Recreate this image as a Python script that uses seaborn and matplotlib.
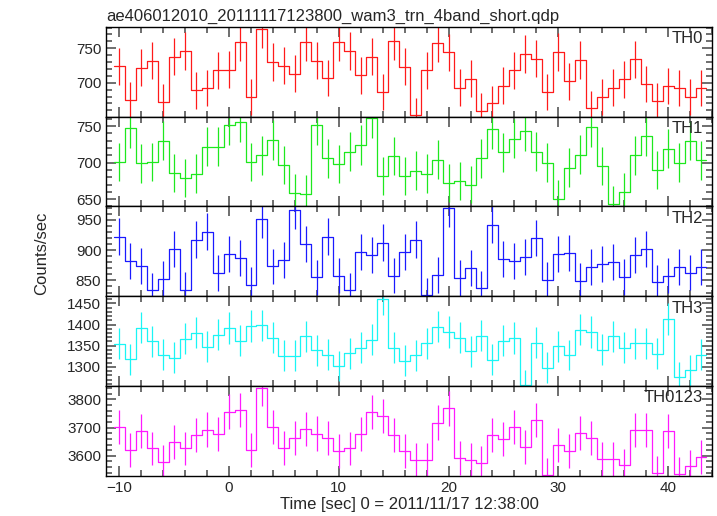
import numpy as np
import pandas as pd
import seaborn as sns
import matplotlib.pyplot as plt
from matplotlib.ticker import MultipleLocator

# Tiempo (centro de cada bin de 1 s)
time_sec = np.arange(-10, 44)

# Cuentas por segundo de cada banda
th0 = [724, 675, 722, 732, 672, 738, 746, 689, 692, 718, 719, 759, 679, 778, 730, 725, 713,
       759, 732, 707, 759, 746, 711, 738, 687, 761, 723, 653, 718, 758, 744, 693, 706, 659,
       670, 696, 718, 742, 735, 687, 745, 702, 733, 663, 679, 693, 705, 734, 698, 674, 695,
       692, 680, 692]
th1 = [701, 748, 699, 701, 730, 686, 679, 685, 722, 722, 752, 756, 701, 710, 731, 697, 659,
       657, 752, 706, 698, 715, 724, 761, 682, 709, 682, 689, 685, 704, 672, 675, 670, 706,
       746, 714, 733, 743, 715, 700, 650, 693, 711, 749, 695, 643, 660, 710, 736, 690, 719,
       700, 730, 703]
th2 = [922, 882, 874, 834, 852, 902, 835, 917, 930, 862, 894, 887, 843, 951, 873, 883, 966,
       910, 855, 922, 858, 834, 897, 892, 912, 858, 897, 917, 826, 859, 969, 854, 871, 837,
       942, 886, 882, 888, 920, 851, 893, 895, 849, 872, 877, 881, 856, 892, 902, 847, 858,
       872, 863, 872]
th3 = [1355, 1318, 1393, 1360, 1329, 1322, 1367, 1381, 1348, 1376, 1392, 1362, 1397, 1398,
       1369, 1326, 1326, 1372, 1339, 1329, 1302, 1332, 1345, 1364, 1461, 1345, 1315, 1327,
       1356, 1395, 1382, 1369, 1337, 1374, 1317, 1362, 1368, 1257, 1357, 1298, 1349, 1328,
       1388, 1382, 1340, 1372, 1345, 1356, 1356, 1331, 1414, 1277, 1292, 1329]
th0123 = [3702, 3620, 3689, 3626, 3579, 3648, 3626, 3673, 3693, 3677, 3757, 3762, 3619, 3840,
          3702, 3629, 3662, 3696, 3679, 3662, 3617, 3626, 3677, 3755, 3742, 3673, 3616, 3585,
          3585, 3718, 3768, 3591, 3585, 3574, 3674, 3658, 3702, 3630, 3726, 3533, 3637, 3618,
          3682, 3664, 3589, 3589, 3566, 3691, 3691, 3539, 3688, 3537, 3562, 3595]

bandas = ['TH0', 'TH1', 'TH2', 'TH3', 'TH0123']
valores = [th0, th1, th2, th3, th0123]
colores = ['#ff1a1a', '#1ee81e', '#1a1aff', '#1af5f5', '#ff1aff']
limites_y = [(651, 781), (640, 763), (824, 972), (1255, 1467), (3529, 3848)]
paso_mayor = [50, 50, 50, 50, 100]
paso_menor = [10, 10, 10, 10, 20]

sns.set_style('ticks')
plt.rcParams['font.family'] = ['Liberation Sans', 'DejaVu Sans']

fig, axes = plt.subplots(5, 1, figsize=(7.17, 5.16), dpi=100, sharex=True)
fig.subplots_adjust(left=0.148, right=0.993, top=0.948, bottom=0.078, hspace=0)

for ax, nombre, v, c, lim, mayor, menor in zip(axes, bandas, valores, colores, limites_y,
                                                paso_mayor, paso_menor):
    v = np.array(v, dtype=float)
    # Histograma en escalera: cada bin de t-0.5 a t+0.5
    df = pd.DataFrame({
        't': np.column_stack([time_sec - 0.5, time_sec + 0.5]).ravel(),
        'rate': np.repeat(v, 2),
    })
    sns.lineplot(data=df, x='t', y='rate', sort=False, estimator=None, color=c,
                 linewidth=0.9, ax=ax)
    # Errores de Poisson (bins de 1 s)
    ax.errorbar(time_sec, v, yerr=np.sqrt(v), fmt='none', ecolor=c, elinewidth=0.9)

    ax.set_xlim(-11.2, 44.0)
    ax.set_ylim(*lim)
    ax.yaxis.set_major_locator(MultipleLocator(mayor))
    ax.yaxis.set_minor_locator(MultipleLocator(menor))
    ax.xaxis.set_major_locator(MultipleLocator(10))
    ax.xaxis.set_minor_locator(MultipleLocator(2))
    ax.tick_params(which='both', direction='in', top=True, right=True,
                   labelsize=11, color='#555555', width=1.2)
    ax.tick_params(which='major', length=7)
    ax.tick_params(which='minor', length=4)
    for s in ax.spines.values():
        s.set_linewidth(1.0)
        s.set_color('black')
    ax.set_xlabel('')
    ax.set_ylabel('')
    ax.text(0.985, 0.95, nombre, transform=ax.transAxes, ha='right', va='top', fontsize=12)

axes[0].set_title('ae406012010_20111117123800_wam3_trn_4band_short.qdp', loc='left',
                  fontsize=12, pad=4)
axes[-1].set_xlabel('Time [sec] 0 = 2011/11/17 12:38:00', fontsize=12, labelpad=2)
fig.text(0.058, 0.51, 'Counts/sec', rotation=90, ha='center', va='center', fontsize=12)

plt.savefig('out.png', dpi=100)
